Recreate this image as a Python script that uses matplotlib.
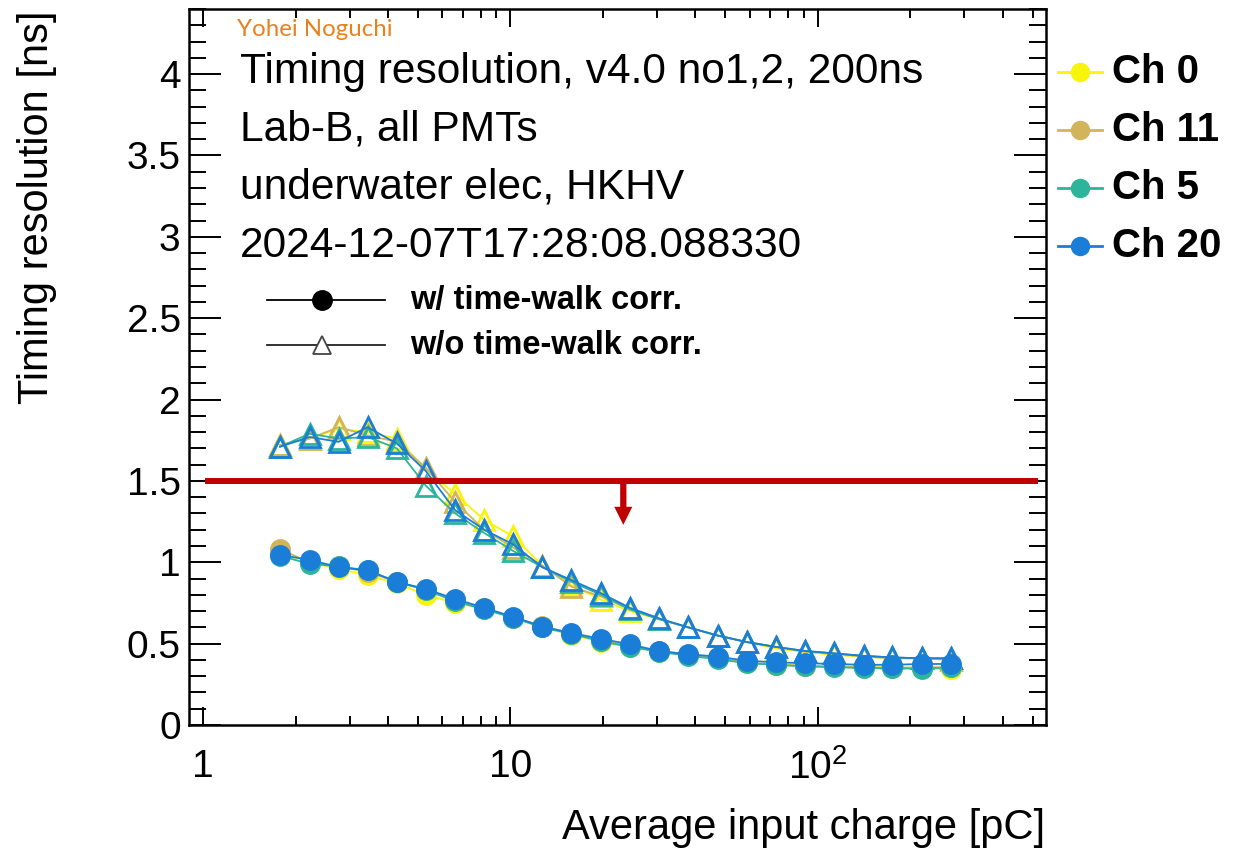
import numpy as np
import matplotlib
matplotlib.use("Agg")
import matplotlib.pyplot as plt
from matplotlib.patches import FancyArrowPatch
from matplotlib.ticker import FixedLocator, FuncFormatter, MultipleLocator, NullFormatter

plt.rcParams['font.family'] = ['Liberation Sans', 'DejaVu Sans']
plt.rcParams['mathtext.fontset'] = 'custom'
plt.rcParams['mathtext.rm'] = 'Liberation Sans'
plt.rcParams['mathtext.it'] = 'Liberation Sans:italic'

# average input charge [pC]
charge = [1.78, 2.22, 2.76, 3.43, 4.27, 5.31, 6.61, 8.22, 10.2, 12.7, 15.8, 19.7,
          24.5, 30.5, 37.9, 47.2, 58.7, 73.0, 90.8, 113, 141, 175, 218, 271]

channels = ['Ch 0', 'Ch 11', 'Ch 5', 'Ch 20']
colors = ['#f8f40a', '#d2b45a', '#2cb59a', '#1a7ed8']

# timing resolution [ns] with time-walk correction
with_corr = {
    'Ch 0': [1.06, 1.00, 0.96, 0.92, 0.87, 0.80, 0.75, 0.72, 0.66, 0.60, 0.555, 0.51,
             0.48, 0.45, 0.43, 0.41, 0.38, 0.37, 0.365, 0.36, 0.355, 0.355, 0.35, 0.345],
    'Ch 11': [1.08, 1.00, 0.975, 0.94, 0.88, 0.83, 0.77, 0.715, 0.66, 0.61, 0.56, 0.52,
              0.485, 0.455, 0.43, 0.41, 0.385, 0.37, 0.365, 0.36, 0.355, 0.35, 0.355, 0.355],
    'Ch 5': [1.04, 0.99, 0.975, 0.95, 0.88, 0.83, 0.76, 0.71, 0.66, 0.60, 0.56, 0.515,
             0.48, 0.45, 0.425, 0.405, 0.38, 0.37, 0.36, 0.355, 0.35, 0.35, 0.345, 0.355],
    'Ch 20': [1.045, 1.015, 0.97, 0.95, 0.88, 0.835, 0.775, 0.72, 0.665, 0.605, 0.565, 0.53,
              0.495, 0.455, 0.435, 0.42, 0.395, 0.385, 0.38, 0.375, 0.37, 0.37, 0.375, 0.375],
}

# timing resolution [ns] without time-walk correction
without_corr = {
    'Ch 0': [1.72, 1.76, 1.82, 1.80, 1.76, 1.57, 1.42, 1.26, 1.16, 0.98, 0.86, 0.77,
             0.70, 0.65, 0.60, 0.55, 0.51, 0.47, 0.45, 0.43, 0.42, 0.41, 0.41, 0.40],
    'Ch 11': [1.72, 1.76, 1.83, 1.78, 1.74, 1.58, 1.37, 1.20, 1.09, 0.98, 0.85, 0.79,
              0.71, 0.65, 0.60, 0.55, 0.51, 0.48, 0.45, 0.44, 0.42, 0.41, 0.41, 0.40],
    'Ch 5': [1.71, 1.79, 1.76, 1.77, 1.70, 1.47, 1.30, 1.18, 1.07, 0.97, 0.88, 0.80,
             0.71, 0.65, 0.60, 0.55, 0.51, 0.48, 0.455, 0.44, 0.425, 0.415, 0.41, 0.41],
    'Ch 20': [1.71, 1.77, 1.74, 1.83, 1.73, 1.56, 1.32, 1.20, 1.11, 0.97, 0.89, 0.81,
              0.72, 0.655, 0.60, 0.55, 0.51, 0.48, 0.455, 0.44, 0.425, 0.415, 0.41, 0.41],
}

info_lines = ['Timing resolution, v4.0 no1,2, 200ns', 'Lab-B, all PMTs',
              'underwater elec, HKHV', '2024-12-07T17:28:08.088330']

# requirement line and arrow
req_level = 1.5
req_x_range = (1.015, 521)
arrow_x = 23.3
arrow_end = 1.23

W, H = 1250, 850
fig = plt.figure(figsize=(12.5, 8.5), dpi=100)
ax = fig.add_axes([189 / W, 1 - 725 / H, (1046 - 189) / W, (725 - 9) / H])

for ch, col in zip(channels, colors):
    ax.plot(charge, without_corr[ch], color=col, lw=1.3, marker='^', ms=15,
            mfc='none', mec=col, mew=2.0)
for ch, col in zip(channels, colors):
    ax.plot(charge, with_corr[ch], color=col, lw=1.3, marker='o', ms=14,
            mfc=col, mec=col)

ax.plot(req_x_range, [req_level, req_level], color='#c00000', lw=4.3, solid_capstyle='butt')
arrow = FancyArrowPatch((arrow_x, req_level), (arrow_x, arrow_end),
                        arrowstyle='simple,head_length=1.3,head_width=1.3,tail_width=0.45',
                        mutation_scale=10, color='#c00000', lw=0, shrinkA=0, shrinkB=0)
ax.add_patch(arrow)

ax.set_xscale('log')
ax.set_xlim(0.9, 553)
ax.set_ylim(0, 4.4)

ax.xaxis.set_major_locator(FixedLocator([1, 10, 100]))
ax.xaxis.set_major_formatter(FuncFormatter(
    lambda v, p: {1: '1', 10: '10', 100: r'$10^{2}$'}.get(int(round(v)), '')))
ax.xaxis.set_minor_locator(FixedLocator([2, 3, 4, 5, 6, 7, 8, 9, 20, 30, 40, 50, 60, 70, 80, 90,
                                         200, 300, 400, 500]))
ax.xaxis.set_minor_formatter(NullFormatter())
ax.yaxis.set_major_locator(MultipleLocator(0.5))
ax.yaxis.set_minor_locator(MultipleLocator(0.1))
ax.yaxis.set_major_formatter(FuncFormatter(lambda v, p: '%g' % v))

ax.tick_params(which='both', direction='in', top=True, right=True, width=1.4)
ax.tick_params(which='major', labelsize=28)
ax.tick_params(axis='x', which='major', length=13, pad=17)
ax.tick_params(axis='x', which='minor', length=6.5)
ax.tick_params(axis='y', which='major', length=23, pad=6)
ax.tick_params(axis='y', which='minor', length=12)
for s in ax.spines.values():
    s.set_linewidth(1.8)

fig.text(1045 / W, 1 - 828 / H, 'Average input charge [pC]', fontsize=30,
         ha='right', va='center')
fig.text(37 / W, 1 - 10 / H, 'Timing resolution [ns]', fontsize=30,
         rotation=90, ha='center', va='top')

fig.text(237 / W, 1 - 30 / H, 'Yohei Noguchi', fontsize=17.3, color='#e8821e',
         family=['Lato', 'DejaVu Sans'], va='center')
for i, line in enumerate(info_lines):
    fig.text(240 / W, 1 - (72 + 58 * i) / H, line, fontsize=30.6, va='center')

# inner legend (marker style)
lg_ax = fig.add_axes([0, 0, 1, 1], facecolor='none')
lg_ax.set_xlim(0, W)
lg_ax.set_ylim(H, 0)
lg_ax.axis('off')
lg_ax.plot([267, 385], [300, 300], color='black', lw=1.3)
lg_ax.plot([322], [300], marker='o', ms=14, color='black')
lg_ax.plot([267, 385], [345, 345], color='#222222', lw=1.3)
lg_ax.plot([322], [345], marker='^', ms=13, mfc='white', mec='#444444', mew=1.3)
lg_ax.text(410, 300, 'w/ time-walk corr.', fontsize=23.5, fontweight='bold', va='center')
lg_ax.text(410, 345, 'w/o time-walk corr.', fontsize=23.5, fontweight='bold', va='center')

# channel legend
for i, (ch, col) in enumerate(zip(channels, colors)):
    y = 72 + 58 * i
    lg_ax.plot([1058, 1102], [y, y], color=col, lw=2)
    lg_ax.plot([1080], [y], marker='o', ms=13, color=col)
    lg_ax.text(1112, y, ch, fontsize=29, fontweight='bold', va='center')

fig.savefig('out.png', dpi=100)
